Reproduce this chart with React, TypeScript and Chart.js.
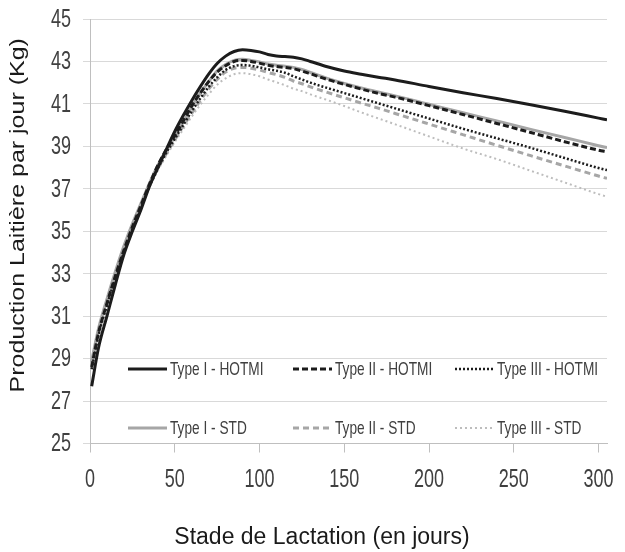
import { useEffect, useRef } from "react";
import { Chart, registerables } from "chart.js";

Chart.register(...registerables);

const days = [1, 5, 10, 15, 20, 25, 30, 35, 40, 45, 50, 55, 60, 65, 70, 75, 80, 85, 90, 95, 100, 105, 110, 115, 120, 125, 130, 140, 150, 160, 170, 180, 200, 220, 240, 260, 280, 300, 305];

const typeIHotmi = [27.7, 29.5, 31.0, 32.5, 33.9, 35.0, 36.0, 37.1, 38.0, 38.85, 39.7, 40.45, 41.15, 41.8, 42.4, 42.9, 43.25, 43.47, 43.55, 43.52, 43.45, 43.33, 43.26, 43.23, 43.2, 43.12, 43.0, 42.75, 42.55, 42.4, 42.26, 42.13, 41.82, 41.53, 41.25, 40.96, 40.65, 40.33, 40.25];
const typeIIHotmi = [28.6, 30.2, 31.6, 32.9, 34.1, 35.2, 36.2, 37.2, 38.1, 38.85, 39.5, 40.2, 40.9, 41.5, 42.05, 42.5, 42.8, 43.0, 43.05, 43.0, 42.92, 42.82, 42.76, 42.72, 42.66, 42.55, 42.42, 42.15, 41.92, 41.7, 41.5, 41.32, 40.92, 40.5, 40.08, 39.65, 39.22, 38.82, 38.74];
const typeIIIHotmi = [28.5, 30.1, 31.5, 32.8, 34.0, 35.1, 36.1, 37.1, 37.95, 38.7, 39.35, 40.0, 40.65, 41.25, 41.8, 42.25, 42.6, 42.78, 42.83, 42.8, 42.72, 42.63, 42.56, 42.47, 42.3, 42.15, 42.0, 41.75, 41.51, 41.27, 41.03, 40.79, 40.31, 39.83, 39.38, 38.93, 38.45, 37.98, 37.88];
const typeIStd = [28.9, 30.4, 31.8, 33.1, 34.3, 35.35, 36.3, 37.25, 38.1, 38.8, 39.45, 40.15, 40.85, 41.5, 42.05, 42.55, 42.85, 43.05, 43.1, 43.05, 42.98, 42.88, 42.82, 42.78, 42.72, 42.62, 42.48, 42.2, 41.96, 41.75, 41.56, 41.38, 40.98, 40.58, 40.2, 39.8, 39.42, 39.03, 38.94];
const typeIIStd = [28.8, 30.3, 31.7, 33.0, 34.2, 35.25, 36.2, 37.15, 37.95, 38.65, 39.3, 39.95, 40.55, 41.15, 41.7, 42.15, 42.5, 42.68, 42.72, 42.68, 42.6, 42.48, 42.38, 42.25, 42.08, 41.95, 41.8, 41.54, 41.29, 41.04, 40.8, 40.55, 40.05, 39.55, 39.05, 38.56, 38.08, 37.6, 37.49];
const typeIIIStd = [28.7, 30.2, 31.6, 32.9, 34.1, 35.15, 36.1, 37.05, 37.85, 38.55, 39.2, 39.8, 40.4, 40.95, 41.45, 41.9, 42.2, 42.4, 42.45, 42.4, 42.3, 42.15, 42.02, 41.88, 41.72, 41.6, 41.45, 41.18, 40.9, 40.6, 40.32, 40.04, 39.47, 38.9, 38.4, 37.85, 37.3, 36.75, 36.63];

const seriesLabels = ["Type I - HOTMI", "Type II - HOTMI", "Type III - HOTMI", "Type I - STD", "Type II - STD", "Type III - STD"];
const xTitle = "Stade de Lactation (en jours)";
const yTitle = "Production Laitière par jour (Kg)";
const xTickValues = [0, 50, 100, 150, 200, 250, 300];

const ARIAL = "'Liberation Sans', Arial, sans-serif";

// Draws the tall, narrow texts of the original (ticks, legend, axis titles)
const textPlugin = {
  id: "narrowText",
  afterDraw(chart: any, _args: any, opts: any) {
    const { ctx, chartArea, scales } = chart;
    ctx.save();
    ctx.textBaseline = "middle";

    // tick labels
    ctx.fillStyle = opts.tickColor;
    ctx.font = `${opts.tickSize}px ${ARIAL}`;
    ctx.textAlign = "right";
    scales.y.ticks.forEach((t: any) => {
      const py = scales.y.getPixelForValue(t.value);
      ctx.save();
      ctx.translate(chartArea.left - opts.yTickGap, py + 1);
      ctx.scale(opts.squeeze, 1);
      ctx.fillText(String(t.value), 0, 0);
      ctx.restore();
    });
    ctx.textAlign = "center";
    scales.x.ticks.forEach((t: any) => {
      const px = scales.x.getPixelForValue(t.value);
      ctx.save();
      ctx.translate(px, chartArea.bottom + opts.xTickGap);
      ctx.scale(opts.squeeze, 1);
      ctx.fillText(String(t.value), 0, 0);
      ctx.restore();
    });

    // legend inside the plot area
    ctx.font = `${opts.legendSize}px ${ARIAL}`;
    ctx.textAlign = "left";
    chart.data.datasets.forEach((ds: any, i: number) => {
      const col = i % 3;
      const row = Math.floor(i / 3);
      const x = chartArea.left + opts.colOffsets[col];
      const y = chartArea.bottom - opts.rowOffsets[row];
      ctx.beginPath();
      ctx.setLineDash(ds.borderDash || []);
      ctx.strokeStyle = ds.borderColor;
      ctx.lineWidth = ds.borderWidth;
      ctx.moveTo(x, y);
      ctx.lineTo(x + opts.sampleWidth, y);
      ctx.stroke();
      ctx.setLineDash([]);
      ctx.fillStyle = opts.legendColor;
      ctx.save();
      ctx.translate(x + opts.sampleWidth + opts.gap, y + 1);
      ctx.scale(opts.squeeze, 1);
      ctx.fillText(ds.label, 0, 0);
      ctx.restore();
    });

    // x axis title
    ctx.fillStyle = opts.titleColor;
    ctx.font = `${opts.xTitleSize}px ${ARIAL}`;
    ctx.textAlign = "center";
    ctx.fillText(xTitle, opts.xTitleX, chartArea.bottom + opts.xTitleGap);

    // y axis title
    ctx.font = `${opts.yTitleSize}px ${ARIAL}`;
    ctx.save();
    ctx.translate(opts.yTitleX, (chartArea.top + chartArea.bottom) / 2 - opts.yTitleShift);
    ctx.rotate(-Math.PI / 2);
    ctx.scale(opts.yTitleStretch, 1);
    ctx.fillText(yTitle, 0, 0);
    ctx.restore();

    ctx.restore();
  },
};

function toPoints(vals: number[]) {
  return days.map((d, i) => ({ x: d, y: vals[i] }));
}

export default function App() {
  const ref = useRef<HTMLCanvasElement | null>(null);

  useEffect(() => {
    if (!ref.current) return;
    const styles = [
      { color: "#1c1c1c", width: 3, dash: [] as number[] },
      { color: "#1c1c1c", width: 3, dash: [6, 3] },
      { color: "#1c1c1c", width: 2.5, dash: [2, 2] },
      { color: "#a6a6a6", width: 3, dash: [] as number[] },
      { color: "#a6a6a6", width: 3, dash: [6, 4] },
      { color: "#bdbdbd", width: 2, dash: [2, 3] },
    ];
    const values = [typeIHotmi, typeIIHotmi, typeIIIHotmi, typeIStd, typeIIStd, typeIIIStd];
    const chart = new Chart(ref.current, {
      type: "line",
      data: {
        datasets: values.map((v, i) => ({
          label: seriesLabels[i],
          data: toPoints(v),
          borderColor: styles[i].color,
          borderWidth: styles[i].width,
          borderDash: styles[i].dash,
          pointRadius: 0,
          fill: false,
          cubicInterpolationMode: "monotone" as const,
        })),
      },
      options: {
        animation: false,
        responsive: true,
        maintainAspectRatio: false,
        layout: { padding: { left: 0, right: 18, top: 19, bottom: 0 } },
        plugins: {
          legend: { display: false },
          tooltip: { enabled: false },
          narrowText: {
            tickColor: "#404040",
            tickSize: 25,
            squeeze: 0.72,
            yTickGap: 19,
            xTickGap: 37,
            legendSize: 19,
            legendColor: "#404040",
            colOffsets: [38, 203, 365],
            rowOffsets: [74.5, 15.5],
            sampleWidth: 39,
            gap: 3,
            titleColor: "#1a1a1a",
            xTitleSize: 23,
            xTitleX: 322,
            xTitleGap: 94,
            yTitleSize: 20,
            yTitleX: 18,
            yTitleShift: 16,
            yTitleStretch: 1.25,
          },
        } as any,
        scales: {
          x: {
            type: "linear",
            min: 0,
            max: 305,
            afterBuildTicks: (axis: any) => {
              axis.ticks = xTickValues.map((v) => ({ value: v }));
            },
            afterFit: (axis: any) => {
              axis.height = 108.5;
            },
            ticks: { display: false, stepSize: 50, includeBounds: false },
            grid: {
              drawOnChartArea: false,
              drawTicks: true,
              tickLength: 9,
              color: "#bfbfbf",
            },
            border: { color: "#bfbfbf" },
          },
          y: {
            min: 25,
            max: 45,
            afterFit: (axis: any) => {
              axis.width = 90;
            },
            ticks: { display: false, stepSize: 2 },
            grid: { color: "#d9d9d9", tickLength: 7 },
            border: { color: "#bfbfbf" },
          },
        },
      },
      plugins: [textPlugin],
    });
    return () => chart.destroy();
  }, []);

  return (
    <div style={{ position: "fixed", left: 0, top: 0, width: 625, height: 552, background: "#fff" }}>
      <canvas ref={ref} />
    </div>
  );
}
